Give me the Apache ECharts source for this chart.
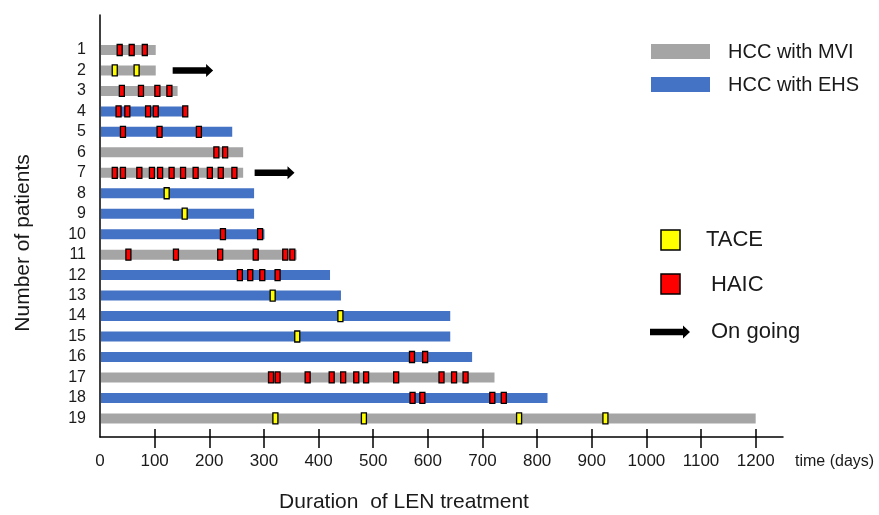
<!DOCTYPE html>
<html>
<head>
<meta charset="utf-8">
<script src="https://cdn.jsdelivr.net/npm/echarts@6/dist/echarts.min.js"></script>
<style>html,body{margin:0;padding:0;background:#fff}#c{width:879px;height:515px}</style>
</head>
<body>
<div id="c"></div>
<script>
// ---- data ----
const patients = [1,2,3,4,5,6,7,8,9,10,11,12,13,14,15,16,17,18,19];
const durations = [102,102,142,155,242,262,262,282,282,301,360,421,441,641,641,681,722,819,1200];
const groups = ['MVI','MVI','MVI','EHS','EHS','MVI','MVI','EHS','EHS','EHS','MVI','EHS','EHS','EHS','EHS','EHS','MVI','EHS','MVI'];
const haicDays = [
  [36,58,82], [], [40,75,105,127], [34,50,88,102,156], [42,109,181], [213,229],
  [27,42,72,95,110,131,152,175,201,221,246], [], [], [225,293],
  [52,139,220,285,339,352], [256,275,297,325], [], [], [], [571,595],
  [313,325,380,424,445,469,487,542,625,648,669], [572,590,718,739], []
];
const taceDays = [
  [], [27,67], [], [], [], [], [], [122], [155], [], [], [], [316], [440], [361], [], [], [], [321,483,767,925]
];
const ongoing = [[2,133,207],[7,283,356]];
const xTickValues = [100,200,300,400,500,600,700,800,900,1000,1100,1200];
const xLabelValues = [0,100,200,300,400,500,600,700,800,900,1000,1100,1200];

const GREY = '#A5A5A5', BLUE = '#4472C4', RED = '#FF0000', YELLOW = '#FFFF00';
const FONT = '"Liberation Sans", Arial, sans-serif';

const barData = patients.map((p,i)=>[p, durations[i], groups[i]==='MVI'?0:1]);
const haicData = [], taceData = [];
patients.forEach((p,i)=>{
  haicDays[i].forEach(d=>haicData.push([p,d]));
  taceDays[i].forEach(d=>taceData.push([p,d]));
});

function markerRender(color){
  return function(params, api){
    const c = api.coord([api.value(1), api.value(0)]);
    return {type:'rect', shape:{x:c[0]-2.5, y:c[1]-5.5, width:5, height:11},
      style:{fill:color, stroke:'#000', lineWidth:1.3}};
  };
}

const chart = echarts.init(document.getElementById('c'), null, {renderer:'canvas'});
chart.setOption({
  animation:false,
  grid:{left:100, top:15, right:96, bottom:78, containLabel:false},
  xAxis:[{
    type:'value', min:0, max:1250, gridIndex:0,
    axisLine:{show:true, onZero:false, lineStyle:{color:'#000', width:1.5}},
    axisTick:{show:true, length:11, customValues:xTickValues, lineStyle:{color:'#000', width:1.5}},
    axisLabel:{show:true, customValues:xLabelValues, margin:16, fontSize:17, color:'#1a1a1a', fontFamily:FONT,
      formatter:function(v){return String(v);}},
    splitLine:{show:false}
  },{
    type:'value', min:0, max:1250, gridIndex:0, position:'bottom',
    axisLine:{show:false, onZero:false},
    axisTick:{show:true, inside:true, length:8, customValues:xTickValues, lineStyle:{color:'#000', width:1.5}},
    axisLabel:{show:false}, splitLine:{show:false}
  }],
  yAxis:{
    type:'value', inverse:true, min:-0.71, max:19.91,
    axisLine:{show:true, onZero:false, lineStyle:{color:'#000', width:1.5}},
    axisTick:{show:false},
    axisLabel:{show:true, customValues:patients, margin:14, fontSize:16, color:'#1a1a1a', fontFamily:FONT},
    splitLine:{show:false}
  },
  series:[
    {type:'custom', name:'bars', data:barData, encode:{x:1, y:0}, z:2,
      renderItem:function(params, api){
        const s = api.coord([0, api.value(0)]);
        const e = api.coord([api.value(1), api.value(0)]);
        return {type:'rect', shape:{x:s[0]+1, y:s[1]-5, width:e[0]-s[0]-1, height:10},
          style:{fill: api.value(2)===0 ? GREY : BLUE}};
      }},
    {type:'custom', name:'HAIC', data:haicData, encode:{x:1, y:0}, z:4, renderItem:markerRender(RED)},
    {type:'custom', name:'TACE', data:taceData, encode:{x:1, y:0}, z:4, renderItem:markerRender(YELLOW)},
    {type:'custom', name:'ongoing', data:ongoing, encode:{x:[1,2], y:0}, z:4,
      renderItem:function(params, api){
        const s = api.coord([api.value(1), api.value(0)]);
        const e = api.coord([api.value(2), api.value(0)]);
        const y = s[1], hl = 7;
        return {type:'polygon', shape:{points:[
          [s[0], y-3.3],[e[0]-hl, y-3.3],[e[0]-hl, y-6.5],[e[0], y],[e[0]-hl, y+6.5],[e[0]-hl, y+3.3],[s[0], y+3.3]
        ]}, style:{fill:'#000'}};
      }}
  ],
  graphic:[
    {type:'rect', shape:{x:651, y:44, width:59, height:15}, style:{fill:GREY}},
    {type:'text', x:728, y:52, style:{text:'HCC with MVI', fontSize:20, fontFamily:FONT, fill:'#1a1a1a', verticalAlign:'middle'}},
    {type:'rect', shape:{x:651, y:77, width:59, height:15}, style:{fill:BLUE}},
    {type:'text', x:728, y:85, style:{text:'HCC with EHS', fontSize:20, fontFamily:FONT, fill:'#1a1a1a', verticalAlign:'middle'}},
    {type:'rect', shape:{x:661, y:230, width:19, height:20}, style:{fill:YELLOW, stroke:'#000', lineWidth:1.5}},
    {type:'text', x:706, y:240, style:{text:'TACE', fontSize:22, fontFamily:FONT, fill:'#1a1a1a', verticalAlign:'middle'}},
    {type:'rect', shape:{x:661, y:274, width:19, height:20}, style:{fill:RED, stroke:'#000', lineWidth:1.5}},
    {type:'text', x:711, y:285, style:{text:'HAIC', fontSize:22, fontFamily:FONT, fill:'#1a1a1a', verticalAlign:'middle'}},
    {type:'polygon', shape:{points:[[650,328.7],[683,328.7],[683,325.5],[690,332],[683,338.5],[683,335.3],[650,335.3]]}, style:{fill:'#000'}},
    {type:'text', x:711, y:332, style:{text:'On going', fontSize:22, fontFamily:FONT, fill:'#1a1a1a', verticalAlign:'middle'}},
    {type:'text', x:795, y:462, style:{text:'time (days)', fontSize:16, fontFamily:FONT, fill:'#1a1a1a', verticalAlign:'middle'}},
    {type:'text', x:404, y:502, style:{text:'Duration  of LEN treatment', fontSize:21, fontFamily:FONT, fill:'#1a1a1a', align:'center', verticalAlign:'middle'}},
    {type:'text', x:23, y:243, rotation:Math.PI/2, style:{text:'Number of patients', fontSize:21, fontFamily:FONT, fill:'#1a1a1a', align:'center', verticalAlign:'middle'}}
  ]
});
</script>
</body>
</html>
